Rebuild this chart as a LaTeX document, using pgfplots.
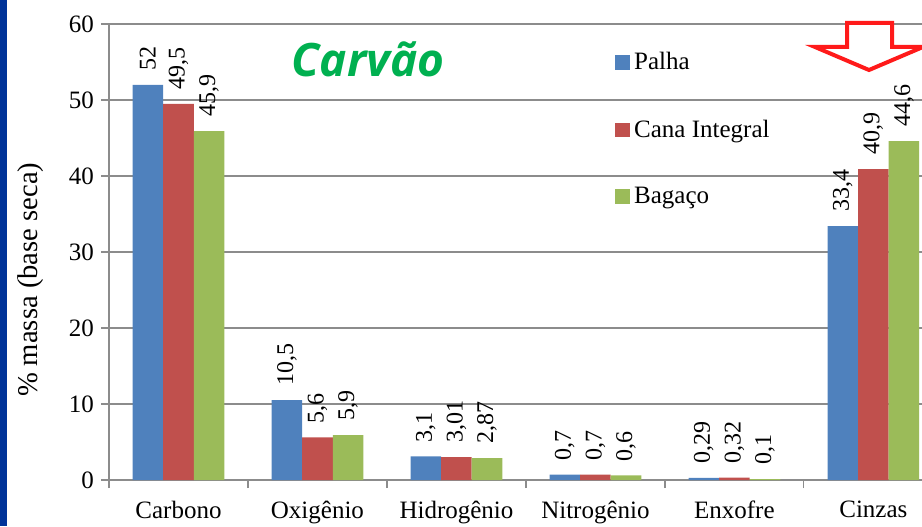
\documentclass[border=0pt]{standalone}
\usepackage{fontspec}
\setmainfont{Liberation Serif}
\newfontfamily\titlefont{Open Sans}
\usepackage{pgfplots}
\pgfplotsset{compat=1.18}
\definecolor{cpalha}{HTML}{4F81BD}
\definecolor{ccana}{HTML}{C0504D}
\definecolor{cbag}{HTML}{9BBB59}
\definecolor{cgreen}{HTML}{00B050}
\definecolor{cside}{HTML}{003399}
\definecolor{cgrid}{HTML}{8C8C8C}
\definecolor{carrow}{HTML}{FF1A1A}
\begin{document}
\begin{tikzpicture}
\path[use as bounding box] (0,0) rectangle (461pt,263pt);
\fill[cside] (0,0) rectangle (3.5pt,263pt);
\begin{axis}[
  at={(54.5pt,23pt)}, anchor=south west,
  scale only axis, width=406.5pt, height=228pt,
  xmin=-0.5, xmax=5.35, ymin=0, ymax=60,
  ybar=0pt, bar width=0.22,
  axis x line=bottom, axis y line=left,
  axis line style={-, draw=cgrid, line width=0.6pt},
  ytick={0,10,...,60},
  ymajorgrids, grid style={cgrid, line width=0.6pt},
  tick align=outside, major tick length=4pt,
  tick style={cgrid, line width=0.6pt},
  xtick={-0.5,0.5,...,4.5}, xticklabels={},
  extra x ticks={0,1,2,3,4,5},
  extra x tick labels={Carbono,Oxigênio,Hidrogênio,Nitrogênio,Enxofre,Cinzas},
  extra x tick style={major tick length=0pt, tick style={draw=none}},
  xticklabel style={yshift=-7pt},
  /pgf/number format/assume math mode=true,
  ticklabel style={font=\fontsize{12.5}{14}\selectfont},
  ylabel={\% massa (base seca)},
  ylabel style={font=\fontsize{14.3}{16}\selectfont, at={(axis description cs:-0.097,0.439)}, anchor=center},
  nodes near coords,
  point meta=explicit symbolic,
  every node near coord/.append style={rotate=90, anchor=west, inner xsep=7pt, font=\fontsize{12}{14}\selectfont, text=black},
  every axis plot post/.append style={legend image code/.code={\fill[##1] (0pt,-3.7pt) rectangle (7.4pt,3.7pt);}},
  legend style={at={(axis description cs:0.615,0.956)}, anchor=north west, draw=none, fill=none,
    font=\fontsize{12.5}{14}\selectfont, row sep=19.5pt},
  legend cell align=left,
]
\addplot[fill=cpalha, draw=none]
  coordinates {(0,52)[52] (1,10.5)[10,5] (2,3.1)[3,1] (3,0.7)[0,7] (4,0.29)[0,29] (5,33.4)[33,4]};
\addplot[fill=ccana, draw=none]
  coordinates {(0,49.5)[49,5] (1,5.6)[5,6] (2,3.01)[3,01] (3,0.7)[0,7] (4,0.32)[0,32] (5,40.9)[40,9]};
\addplot[fill=cbag, draw=none]
  coordinates {(0,45.9)[45,9] (1,5.9)[5,9] (2,2.87)[2,87] (3,0.6)[0,6] (4,0.1)[0,1] (5,44.6)[44,6]};
\legend{Palha,Cana Integral,Bagaço}
\end{axis}
\node[anchor=base, text=cgreen, font=\titlefont\bfseries\itshape\fontsize{23}{26}\selectfont] at (184pt,224.5pt) {Carvão};
\draw[carrow, line width=2pt, line join=miter] (423.5pt,251.5pt) -- (446pt,251.5pt) -- (446pt,239.5pt) -- (461.5pt,239.5pt) -- (434.5pt,228pt) -- (407.5pt,239.5pt) -- (423.5pt,239.5pt) -- cycle;
\end{tikzpicture}
\end{document}
